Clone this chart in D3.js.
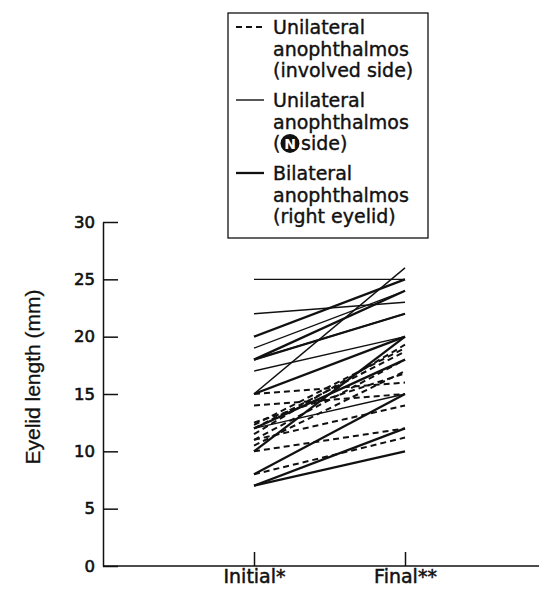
<!DOCTYPE html>
<html>
<head>
<meta charset="utf-8">
<script src="https://cdn.jsdelivr.net/npm/d3@7"></script>
<style>
  body { margin: 0; background: #fff; }
  text { font-family: "DejaVu Sans", sans-serif; fill: #111; }
</style>
</head>
<body>
<script>
// time points
var stages = ["Initial*", "Final**"];
// unilateral anophthalmos, involved side (dashed)
var involvedInitial = [15, 14, 12.3, 12, 11.5, 11, 11, 10, 8, 12.5, 10.5];
var involvedFinal   = [16, 15, 19, 18.7, 19.3, 18, 14, 12, 11.2, 16.8, 17];
// unilateral anophthalmos, normal side (thin)
var normalInitial = [25, 22, 19, 17, 18, 15, 12];
var normalFinal   = [25, 23, 24, 20, 22, 26, 15];
// bilateral anophthalmos, right eyelid (thick)
var bilatInitial = [20, 18, 18, 15, 10, 8, 7, 7, 12];
var bilatFinal   = [25, 24, 22, 20, 20, 15, 12, 10, 18];
var yTicks = [0, 5, 10, 15, 20, 25, 30];

var W = 539, H = 592;
var svg = d3.select("body").append("svg").attr("width", W).attr("height", H);

var y = d3.scaleLinear().domain([0, 30]).range([566, 222]);
var x = d3.scalePoint().domain(stages).range([254, 405]);

function pairs(a, b) {
  return a.map(function(v, i) { return [{s: stages[0], v: v}, {s: stages[1], v: b[i]}]; });
}
var line = d3.line().x(function(d) { return x(d.s); }).y(function(d) { return y(d.v); });

// y axis
var ya = svg.append("g").attr("transform", "translate(103,0)")
  .call(d3.axisLeft(y).tickValues(yTicks).tickSizeInner(-15).tickSizeOuter(0).tickPadding(8));
ya.select(".domain").attr("stroke", "#111").attr("stroke-width", 1.5);
ya.selectAll(".tick line").attr("stroke", "#111").attr("stroke-width", 1.5);
ya.selectAll(".tick text").style("font-size", "16.5px").attr("fill", "#111")
  .attr("stroke", "#111").attr("stroke-width", 0.6);

// x axis
var xa = svg.append("g").attr("transform", "translate(0,566)")
  .call(d3.axisBottom(x).tickSizeInner(-14).tickSizeOuter(0).tickPadding(3));
xa.select(".domain").remove();
xa.selectAll(".tick line").attr("stroke", "#111").attr("stroke-width", 1.5);
xa.selectAll(".tick text").style("font-size", "19px").attr("fill", "#111")
  .attr("stroke", "#111").attr("stroke-width", 0.5);
svg.append("line").attr("x1", 103).attr("x2", W).attr("y1", 566).attr("y2", 566)
  .attr("stroke", "#111").attr("stroke-width", 1.5);

svg.append("text")
  .attr("transform", "translate(40,377) rotate(-90)")
  .attr("text-anchor", "middle")
  .style("font-family", "'Liberation Sans', Arial, sans-serif")
  .style("font-size", "21px")
  .attr("stroke", "#111").attr("stroke-width", 0.3)
  .text("Eyelid length (mm)");

// data lines
svg.selectAll(".inv").data(pairs(involvedInitial, involvedFinal)).enter().append("path")
  .attr("d", line).attr("fill", "none").attr("stroke", "#111")
  .attr("stroke-width", 2).attr("stroke-dasharray", "6,4");
svg.selectAll(".nor").data(pairs(normalInitial, normalFinal)).enter().append("path")
  .attr("d", line).attr("fill", "none").attr("stroke", "#111").attr("stroke-width", 1.4);
svg.selectAll(".bil").data(pairs(bilatInitial, bilatFinal)).enter().append("path")
  .attr("d", line).attr("fill", "none").attr("stroke", "#111").attr("stroke-width", 2.3);

// legend
var lg = svg.append("g");
lg.append("rect").attr("x", 228).attr("y", 13).attr("width", 200).attr("height", 225)
  .attr("fill", "#fff").attr("stroke", "#111").attr("stroke-width", 1.3);

var lh = 21.7;
var entries = [
  {y: 27, lines: ["Unilateral", "anophthalmos", "(involved side)"], dash: "6,4", w: 2},
  {y: 100, lines: ["Unilateral", "anophthalmos", null], dash: null, w: 1.4},
  {y: 173, lines: ["Bilateral", "anophthalmos", "(right eyelid)"], dash: null, w: 2.3}
];
entries.forEach(function(e) {
  var l = lg.append("line").attr("x1", 236).attr("x2", 264).attr("y1", e.y).attr("y2", e.y)
    .attr("stroke", "#111").attr("stroke-width", e.w);
  if (e.dash) l.attr("stroke-dasharray", e.dash);
  e.lines.forEach(function(t, i) {
    if (t === null) return;
    lg.append("text").attr("x", 273).attr("y", e.y + 7 + i * lh)
      .style("font-size", "19px").attr("stroke", "#111").attr("stroke-width", 0.4).text(t);
  });
});
// "(N side)" with the circled N
var ny = 100 + 7 + 2 * lh;
lg.append("text").attr("x", 273).attr("y", ny).style("font-size", "19px")
  .attr("stroke", "#111").attr("stroke-width", 0.4).text("(");
lg.append("circle").attr("cx", 290).attr("cy", ny - 7).attr("r", 9.5).attr("fill", "#111");
lg.append("text").attr("x", 290).attr("y", ny - 1.5).attr("text-anchor", "middle")
  .style("font-size", "14px").style("font-weight", "bold").style("fill", "#fff").text("N");
lg.append("text").attr("x", 301).attr("y", ny).style("font-size", "19px")
  .attr("stroke", "#111").attr("stroke-width", 0.4).text("side)");
</script>
</body>
</html>
